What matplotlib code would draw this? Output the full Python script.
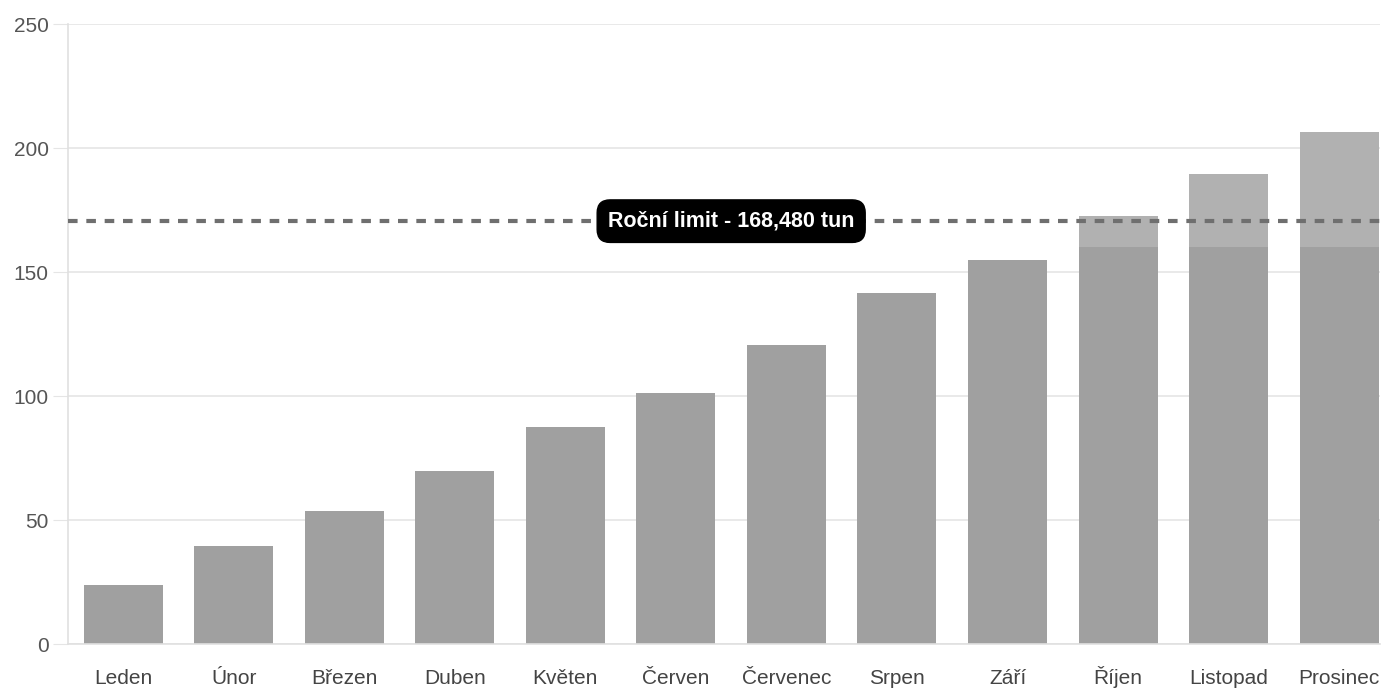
import matplotlib
matplotlib.use("Agg")
import matplotlib.pyplot as plt
import numpy as np

months = ["Leden", "Únor", "Březen", "Duben", "Květen", "Červen", "Červenec",
          "Srpen", "Září", "Říjen", "Listopad", "Prosinec"]
values = [23.8, 39.6, 53.6, 69.8, 87.5, 101.2, 120.6, 141.5, 154.8, 172.6, 189.5, 206.3]
split_level = 160
limit_value = 170.5
limit_label = "Roční limit - 168,480 tun"
y_ticks = [0, 50, 100, 150, 200, 250]

plt.rcParams['font.family'] = ['Liberation Sans', 'DejaVu Sans']

fig = plt.figure(figsize=(13.86, 6.89), dpi=100)
ax = fig.add_axes([68/1386, 45/689, 1312/1386, 620/689])

x = np.arange(len(months))
vals = np.array(values)
base = np.minimum(vals, split_level)
extra = np.clip(vals - split_level, 0, None)

ax.bar(x, base, width=0.715, color="#a0a0a0", zorder=2)
ax.bar(x, extra, bottom=base, width=0.715, color="#b1b1b1", zorder=2)

ax.axhline(limit_value, color="#6f6f6f", lw=3, ls=(0, (2.3, 2.1)), zorder=3)
ax.text(5.5, limit_value, limit_label, ha="center", va="center",
        color="white", fontsize=15.5, fontweight="bold", zorder=4,
        bbox=dict(boxstyle="round,pad=0.5,rounding_size=0.6", fc="black", ec="black"))

ax.set_xlim(-0.5, 11.37)
ax.set_ylim(0, 250)
ax.set_yticks(y_ticks)
ax.set_xticks(x)
ax.set_xticklabels(months)
for lbl in ax.get_xticklabels():
    lbl.set_verticalalignment("baseline")
ax.grid(axis="y", color="#e5e5e5", lw=1.2, zorder=0)
ax.tick_params(axis="y", length=11, color="#e5e5e5", labelsize=15, labelcolor="#555555", pad=3)
ax.tick_params(axis="x", length=0, labelsize=15, labelcolor="#444444", pad=29)
for s in ["top", "right"]:
    ax.spines[s].set_visible(False)
ax.spines["left"].set_color("#e0e0e0")
ax.spines["bottom"].set_color("#e0e0e0")
ax.spines["left"].set_linewidth(1.2)
ax.spines["bottom"].set_linewidth(1.2)

fig.savefig("out.png", dpi=100)
